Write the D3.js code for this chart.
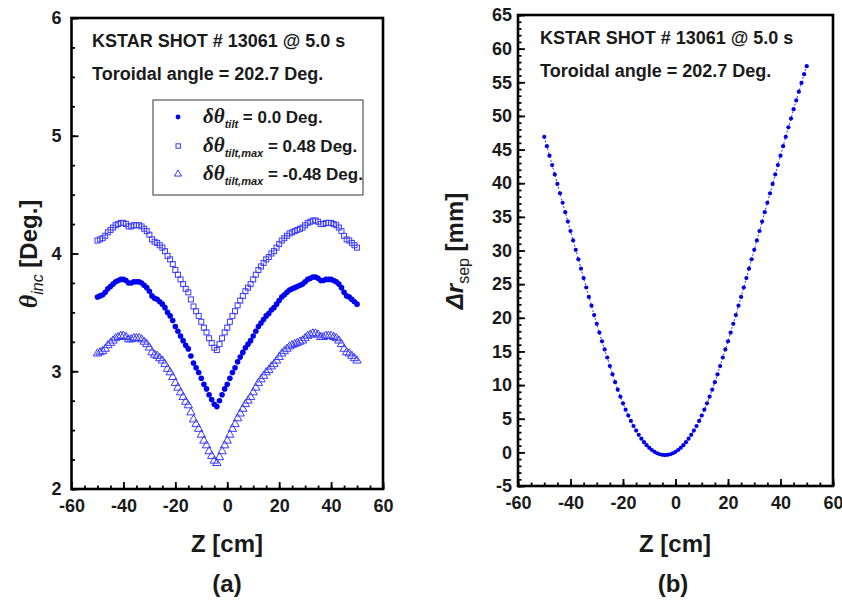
<!DOCTYPE html>
<html>
<head>
<meta charset="utf-8">
<script src="https://cdn.jsdelivr.net/npm/d3@7"></script>
<style>
  html, body { margin: 0; padding: 0; background: #fff; }
  svg { display: block; }
  text { font-family: "Liberation Sans", Arial, sans-serif; font-weight: bold; fill: #1a1a1a; }
</style>
</head>
<body>
<svg id="fig" width="842" height="602"></svg>
<script>
// Z positions along the divertor target [cm]
const zCm = [
  -50,-49,-48,-47,-46,-45,-44,-43,-42,-41,-40,-39,-38,-37,-36,-35,-34,-33,-32,-31,
  -30,-29,-28,-27,-26,-25,-24,-23,-22,-21,-20,-19,-18,-17,-16,-15,-14,-13,-12,-11,
  -10,-9,-8,-7,-6,-5,-4,-3,-2,-1,0,1,2,3,4,5,6,7,8,9,
  10,11,12,13,14,15,16,17,18,19,20,21,22,23,24,25,26,27,28,29,
  30,31,32,33,34,35,36,37,38,39,40,41,42,43,44,45,46,47,48,49,50
];

// Incidence angle [deg], no tilt
const thetaTilt0 = [
  3.63,3.64,3.65,3.67,3.70,3.72,3.74,3.76,3.77,3.78,3.78,3.77,3.75,3.75,3.76,3.76,3.76,3.75,3.73,3.71,
  3.68,3.64,3.62,3.61,3.59,3.57,3.54,3.50,3.47,3.43,3.38,3.34,3.30,3.26,3.22,3.19,3.13,3.07,3.03,2.99,
  2.94,2.89,2.85,2.80,2.76,2.72,2.70,2.75,2.80,2.85,2.89,2.94,2.99,3.03,3.08,3.12,3.16,3.20,3.23,3.26,
  3.30,3.34,3.38,3.41,3.44,3.47,3.49,3.52,3.54,3.57,3.60,3.63,3.65,3.67,3.69,3.70,3.71,3.72,3.73,3.74,
  3.76,3.78,3.79,3.80,3.80,3.79,3.77,3.77,3.78,3.78,3.78,3.77,3.76,3.74,3.71,3.67,3.64,3.63,3.61,3.59,3.57
];

// Incidence angle [deg], tilt +0.48 deg
const thetaTiltPos = [
  4.11,4.12,4.13,4.15,4.18,4.20,4.22,4.24,4.25,4.26,4.26,4.25,4.23,4.23,4.24,4.24,4.24,4.23,4.21,4.19,
  4.16,4.12,4.10,4.09,4.07,4.05,4.02,3.98,3.95,3.91,3.86,3.82,3.78,3.74,3.70,3.67,3.61,3.55,3.51,3.47,
  3.42,3.37,3.33,3.28,3.24,3.20,3.18,3.23,3.28,3.33,3.37,3.42,3.47,3.51,3.56,3.60,3.64,3.68,3.71,3.74,
  3.78,3.82,3.86,3.89,3.92,3.95,3.97,4.00,4.02,4.05,4.08,4.11,4.13,4.15,4.17,4.18,4.19,4.20,4.21,4.22,
  4.24,4.26,4.27,4.28,4.28,4.27,4.25,4.25,4.26,4.26,4.26,4.25,4.24,4.22,4.19,4.15,4.12,4.11,4.09,4.07,4.05
];

// Incidence angle [deg], tilt -0.48 deg
const thetaTiltNeg = [
  3.15,3.16,3.17,3.19,3.22,3.24,3.26,3.28,3.29,3.30,3.30,3.29,3.27,3.27,3.28,3.28,3.28,3.27,3.25,3.23,
  3.20,3.16,3.14,3.13,3.11,3.09,3.06,3.02,2.99,2.95,2.90,2.86,2.82,2.78,2.74,2.71,2.65,2.59,2.55,2.51,
  2.46,2.41,2.37,2.32,2.28,2.24,2.22,2.27,2.32,2.37,2.41,2.46,2.51,2.55,2.60,2.64,2.68,2.72,2.75,2.78,
  2.82,2.86,2.90,2.93,2.96,2.99,3.01,3.04,3.06,3.09,3.12,3.15,3.17,3.19,3.21,3.22,3.23,3.24,3.25,3.26,
  3.28,3.30,3.31,3.32,3.32,3.31,3.29,3.29,3.30,3.30,3.30,3.29,3.28,3.26,3.23,3.19,3.16,3.15,3.13,3.11,3.09
];

// Separatrix displacement [mm]
const drSep = [
  46.9,45.5,44.1,42.7,41.3,39.9,38.5,37.1,35.7,34.3,32.9,31.5,30.1,28.7,27.3,25.9,24.5,23.1,21.8,20.4,
  19.1,17.8,16.5,15.3,14.1,12.83,11.6,10.43,9.32,8.27,7.28,6.35,5.48,4.67,3.92,3.23,2.60,2.03,1.52,1.07,
  0.68,0.35,0.08,-0.13,-0.28,-0.37,-0.40,-0.37,-0.28,-0.13,0.08,0.35,0.68,1.07,1.52,2.03,2.60,3.23,3.92,4.67,
  5.48,6.35,7.28,8.27,9.32,10.43,11.6,12.83,14.1,15.3,16.5,17.8,19.1,20.4,21.8,23.1,24.5,25.9,27.3,28.7,
  30.1,31.5,32.9,34.3,35.7,37.1,38.5,39.9,41.3,42.7,44.1,45.5,46.9,48.3,49.6,51.0,52.3,53.6,54.9,56.2,57.4
];

// Tick values
const zTicks = [-60, -40, -20, 0, 20, 40, 60];
const zMinorTicks = [-60,-55,-50,-45,-40,-35,-30,-25,-20,-15,-10,-5,0,5,10,15,20,25,30,35,40,45,50,55,60];
const thetaTicks = [2, 3, 4, 5, 6];
const thetaMinorTicks = [2,2.25,2.5,2.75,3,3.25,3.5,3.75,4,4.25,4.5,4.75,5,5.25,5.5,5.75,6];
const drTicks = [-5, 0, 5, 10, 15, 20, 25, 30, 35, 40, 45, 50, 55, 60, 65];
const drMinorTicks = d3.range(-5, 66, 1);

const headerLines = ["KSTAR SHOT # 13061 @ 5.0 s", "Toroidal angle = 202.7 Deg."];
const legendValues = ["= 0.0 Deg.", "= 0.48 Deg.", "= -0.48 Deg."];
const legendSubs = ["tilt", "tilt,max", "tilt,max"];

const BLUE = "#0000f0";
const svg = d3.select("#fig");

// panel geometry
const A = { x0: 71.5, x1: 383, y0: 18, y1: 489 };
const B = { x0: 518, x1: 833, y0: 15, y1: 486 };

const xA = d3.scaleLinear().domain([-60, 60]).range([A.x0, A.x1]);
const yA = d3.scaleLinear().domain([2, 6]).range([A.y1, A.y0]);
const xB = d3.scaleLinear().domain([-60, 60]).range([B.x0, B.x1]);
const yB = d3.scaleLinear().domain([-5, 65]).range([B.y1, B.y0]);

const fmt = d => String(d);

function drawAxes(P, xs, ys, yMajor, yMinor, yPad) {
  const g = svg.append("g");
  // minor x ticks
  g.append("g").attr("transform", `translate(0,${P.y1})`)
    .call(d3.axisBottom(xs).tickValues(zMinorTicks).tickSize(-3.5).tickFormat(""))
    .call(s => s.select(".domain").remove())
    .call(s => s.selectAll("line").attr("stroke", "#000").attr("stroke-width", 1.8));
  // major x ticks
  g.append("g").attr("transform", `translate(0,${P.y1})`)
    .call(d3.axisBottom(xs).tickValues(zTicks).tickSize(-7).tickPadding(10).tickFormat(fmt))
    .call(s => s.select(".domain").remove())
    .call(s => s.selectAll("line").attr("stroke", "#000").attr("stroke-width", 1.8))
    .call(s => s.selectAll("text").attr("font-size", 18).attr("fill", "#1a1a1a")
      .attr("font-family", "Liberation Sans, Arial, sans-serif").attr("font-weight", "bold"));
  // minor y ticks
  g.append("g").attr("transform", `translate(${P.x0},0)`)
    .call(d3.axisLeft(ys).tickValues(yMinor).tickSize(-3.5).tickFormat(""))
    .call(s => s.select(".domain").remove())
    .call(s => s.selectAll("line").attr("stroke", "#000").attr("stroke-width", 1.8));
  // major y ticks
  g.append("g").attr("transform", `translate(${P.x0},0)`)
    .call(d3.axisLeft(ys).tickValues(yMajor).tickSize(-7).tickPadding(yPad).tickFormat(fmt))
    .call(s => s.select(".domain").remove())
    .call(s => s.selectAll("line").attr("stroke", "#000").attr("stroke-width", 1.8))
    .call(s => s.selectAll("text").attr("font-size", 18).attr("fill", "#1a1a1a")
      .attr("font-family", "Liberation Sans, Arial, sans-serif").attr("font-weight", "bold"));
  // frame
  g.append("rect")
    .attr("x", P.x0).attr("y", P.y0)
    .attr("width", P.x1 - P.x0).attr("height", P.y1 - P.y0)
    .attr("fill", "none").attr("stroke", "#000").attr("stroke-width", 2.6);
}

function drawHeader(x, yFirst) {
  headerLines.forEach((t, i) => {
    svg.append("text").attr("x", x).attr("y", yFirst + i * 33)
      .attr("font-size", 18).text(t);
  });
}

// ---------- panel (a): incidence angle ----------
drawAxes(A, xA, yA, thetaTicks, thetaMinorTicks, 10);

const ptsA = zCm.map((z, i) => ({ z, c: thetaTilt0[i], s: thetaTiltPos[i], t: thetaTiltNeg[i] }));

const sq = 5;
svg.append("g").selectAll("rect").data(ptsA).join("rect")
  .attr("x", d => xA(d.z) - sq / 2).attr("y", d => yA(d.s) - sq / 2)
  .attr("width", sq).attr("height", sq)
  .attr("fill", "none").attr("stroke", "#3a3aff").attr("stroke-width", 1);

const tri = d3.symbol().type(d3.symbolTriangle).size(30);
svg.append("g").selectAll("path").data(ptsA).join("path")
  .attr("transform", d => `translate(${xA(d.z)},${yA(d.t)})`)
  .attr("d", tri)
  .attr("fill", "none").attr("stroke", "#3a3aff").attr("stroke-width", 1);

svg.append("g").selectAll("circle").data(ptsA).join("circle")
  .attr("cx", d => xA(d.z)).attr("cy", d => yA(d.c)).attr("r", 2.8)
  .attr("fill", BLUE);

drawHeader(92, 47);

// legend
const lg = svg.append("g");
lg.append("rect").attr("x", 153).attr("y", 100).attr("width", 210).attr("height", 95)
  .attr("fill", "#fff").attr("stroke", "#555").attr("stroke-width", 1.2);
const rowsY = [117, 146, 174];
lg.append("circle").attr("cx", 178).attr("cy", rowsY[0]).attr("r", 2.4).attr("fill", BLUE);
lg.append("rect").attr("x", 176).attr("y", rowsY[1] - 2.2).attr("width", 4.4).attr("height", 4.4)
  .attr("fill", "none").attr("stroke", "#3a3aff").attr("stroke-width", 1);
lg.append("path").attr("transform", `translate(178,${rowsY[2]})`)
  .attr("d", d3.symbol().type(d3.symbolTriangle).size(22))
  .attr("fill", "none").attr("stroke", "#3a3aff").attr("stroke-width", 1);

legendValues.forEach((v, i) => {
  const t = lg.append("text").attr("x", 203).attr("y", rowsY[i] + 6);
  t.append("tspan").attr("font-family", "Liberation Serif, serif").attr("font-style", "italic")
    .attr("font-size", 21).text("δθ");
  t.append("tspan").attr("font-style", "italic").attr("font-size", 11)
    .attr("dy", 5).text(legendSubs[i]);
  t.append("tspan").attr("font-size", 17).attr("dy", -5).text(" " + v);
});

// axis titles
const yTitleA = svg.append("text")
  .attr("transform", "translate(37,254) rotate(-90)")
  .attr("text-anchor", "middle");
yTitleA.append("tspan").attr("font-family", "Liberation Serif, serif").attr("font-style", "italic")
  .attr("font-size", 26).text("θ");
yTitleA.append("tspan").attr("font-style", "italic").attr("font-weight", "normal")
  .attr("font-size", 16).attr("dy", 6).text("inc");
yTitleA.append("tspan").attr("font-size", 24).attr("dy", -6).text(" [Deg.]");

svg.append("text").attr("x", 227).attr("y", 552).attr("text-anchor", "middle")
  .attr("font-size", 24).text("Z [cm]");
svg.append("text").attr("x", 227).attr("y", 592).attr("text-anchor", "middle")
  .attr("font-size", 24).text("(a)");

// ---------- panel (b): separatrix displacement ----------
drawAxes(B, xB, yB, drTicks, drMinorTicks, 6);

const ptsB = zCm.map((z, i) => ({ z, v: drSep[i] }));

svg.append("path").datum(ptsB)
  .attr("d", d3.line().x(d => xB(d.z)).y(d => yB(d.v)))
  .attr("fill", "none").attr("stroke", BLUE).attr("stroke-width", 0.8)
  .attr("stroke-dasharray", "2,2");

svg.append("g").selectAll("circle").data(ptsB).join("circle")
  .attr("cx", d => xB(d.z)).attr("cy", d => yB(d.v)).attr("r", 2.1)
  .attr("fill", BLUE);

drawHeader(540, 44);

const yTitleB = svg.append("text")
  .attr("transform", "translate(463,251) rotate(-90)")
  .attr("text-anchor", "middle");
yTitleB.append("tspan").attr("font-style", "italic").attr("font-size", 24).text("Δr");
yTitleB.append("tspan").attr("font-weight", "normal").attr("font-size", 16)
  .attr("dy", 6).text("sep");
yTitleB.append("tspan").attr("font-size", 24).attr("dy", -6).text(" [mm]");

svg.append("text").attr("x", 675).attr("y", 552).attr("text-anchor", "middle")
  .attr("font-size", 24).text("Z [cm]");
svg.append("text").attr("x", 673).attr("y", 592).attr("text-anchor", "middle")
  .attr("font-size", 24).text("(b)");
</script>
</body>
</html>
